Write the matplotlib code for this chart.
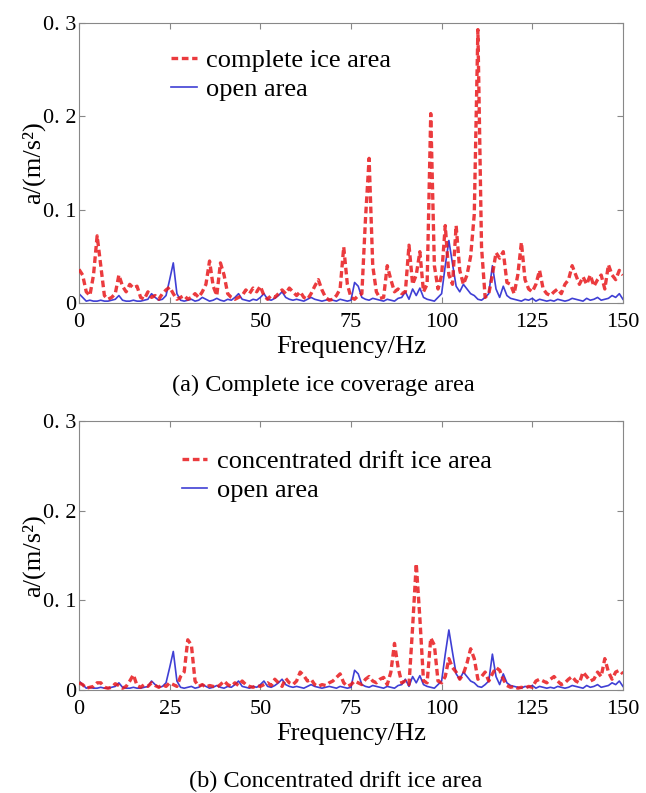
import numpy as np
import matplotlib
matplotlib.use("Agg")
from matplotlib import pyplot as plt

plt.rcParams['font.family'] = ['Liberation Serif', 'DejaVu Serif']

# 频率 0..150 Hz, 1 Hz 一个点
freq = np.arange(0, 151)

complete_ice = [
    .036, .030, .012, .008, .030, .072, .040, .008, .004, .006,
    .010, .030, .018, .012, .020, .016, .018, .006, .004, .012,
    .006, .008, .004, .010, .014, .017, .010, .004, .006, .008,
    .004, .006, .010, .006, .012, .020, .045, .018, .008, .043,
    .030, .010, .006, .004, .006, .008, .014, .010, .016, .012,
    .018, .008, .004, .008, .006, .010, .014, .010, .016, .012,
    .008, .012, .006, .004, .010, .018, .025, .014, .006, .003,
    .004, .008, .015, .060, .020, .006, .004, .008, .010, .090,
    .155, .040, .012, .005, .006, .040, .025, .012, .015, .010,
    .012, .062, .020, .030, .055, .012, .020, .203, .040, .015,
    .030, .083, .030, .020, .083, .035, .020, .030, .050, .095,
    .293, .060, .006, .010, .030, .054, .048, .055, .022, .020,
    .010, .030, .065, .025, .015, .012, .020, .035, .015, .010,
    .008, .012, .015, .010, .020, .025, .040, .030, .020, .028,
    .020, .030, .018, .025, .030, .015, .041, .030, .025, .035,
    .030]

drift_ice = [
    .008, .006, .002, .003, .004, .008, .008, .003, .002, .003,
    .007, .005, .002, .004, .010, .017, .005, .003, .006, .004,
    .008, .005, .003, .006, .004, .008, .006, .004, .015, .020,
    .056, .050, .010, .004, .006, .003, .005, .004, .003, .006,
    .010, .006, .004, .008, .005, .010, .006, .004, .003, .005,
    .004, .006, .008, .005, .012, .008, .004, .013, .008, .006,
    .010, .020, .016, .010, .012, .006, .004, .006, .005, .008,
    .010, .014, .018, .008, .004, .006, .010, .008, .006, .012,
    .015, .010, .008, .012, .014, .006, .020, .052, .025, .008,
    .010, .006, .070, .141, .080, .010, .008, .058, .050, .010,
    .008, .015, .035, .025, .020, .012, .018, .030, .046, .035,
    .012, .015, .020, .010, .018, .025, .022, .012, .005, .003,
    .004, .002, .003, .002, .004, .003, .010, .012, .010, .008,
    .012, .015, .010, .006, .008, .012, .015, .010, .008, .020,
    .015, .010, .012, .020, .015, .035, .020, .012, .020, .022,
    .018]

open_area = [
    .010, .006, .002, .003, .002, .002, .003, .002, .002, .003,
    .004, .008, .003, .002, .002, .003, .002, .002, .003, .004,
    .010, .006, .003, .004, .008, .025, .043, .010, .003, .002,
    .003, .004, .002, .003, .006, .004, .002, .003, .005, .003,
    .002, .004, .003, .006, .010, .004, .003, .002, .004, .003,
    .006, .010, .004, .003, .005, .008, .012, .006, .004, .003,
    .004, .003, .002, .004, .006, .004, .003, .002, .003, .004,
    .003, .002, .004, .003, .002, .003, .022, .018, .006, .004,
    .003, .005, .004, .003, .002, .004, .003, .002, .005, .006,
    .012, .004, .015, .008, .016, .006, .004, .003, .002, .006,
    .010, .040, .067, .042, .018, .012, .020, .015, .010, .008,
    .004, .003, .006, .010, .040, .015, .006, .018, .008, .005,
    .004, .003, .002, .004, .003, .005, .002, .004, .003, .002,
    .003, .002, .004, .003, .002, .003, .005, .004, .003, .002,
    .005, .003, .004, .006, .003, .004, .005, .008, .006, .010,
    .004]

xticks = [0, 25, 50, 75, 100, 125, 150]
yticks = [0, 0.1, 0.2, 0.3]
ytick_labels = ['0', '0. 1', '0. 2', '0. 3']

RED = '#e8181c'
BLUE = '#2a2ad0'

fig = plt.figure(figsize=(6.46, 7.93), dpi=100)
ax1 = fig.add_axes([0.1223, 0.6179, 0.842, 0.353])
ax2 = fig.add_axes([0.1223, 0.1299, 0.842, 0.339])


def draw(ax, ice, ice_label, legend_x, legend_y):
    ax.plot(freq, open_area, color=BLUE, lw=1.2, alpha=0.9, label='open area', zorder=2)
    ax.plot(freq, ice, color=RED, lw=2.4, alpha=0.85, dashes=(2.0, 1.1),
            label=ice_label, zorder=3)
    ax.set_xlim(0, 150)
    ax.set_ylim(0, 0.3)
    ax.set_xticks(xticks)
    ax.set_yticks(yticks)
    ax.set_yticklabels(ytick_labels)
    ax.tick_params(direction='in', top=True, right=True, length=4,
                   color='#888888', labelsize=16)
    ax.tick_params(axis='x', pad=7)
    ax.tick_params(axis='y', pad=2)
    for s in ax.spines.values():
        s.set_color('#888888')
        s.set_linewidth(0.8)
    ax.set_xlabel('Frequency/Hz', fontsize=19, labelpad=3)
    ax.set_ylabel('a/(m/s²)', fontsize=19, labelpad=-2)
    h, l = ax.get_legend_handles_labels()
    ax.legend(h[::-1], l[::-1], loc='upper left', bbox_to_anchor=(legend_x, legend_y),
              frameon=False, fontsize=19, handlelength=0.95, handletextpad=0.35,
              borderpad=0, borderaxespad=0, labelspacing=0.22)


draw(ax1, complete_ice, 'complete ice area', 0.17, 0.91)
draw(ax2, drift_ice, 'concentrated drift ice area', 0.19, 0.895)

fig.text(0.50, 1 - 385 / 793, '(a) Complete ice coverage area', fontsize=17.5,
         ha='center', va='center')
fig.text(0.52, 1 - 781 / 793, '(b) Concentrated drift ice area', fontsize=17.5,
         ha='center', va='center')

fig.savefig('out.png', dpi=100)
